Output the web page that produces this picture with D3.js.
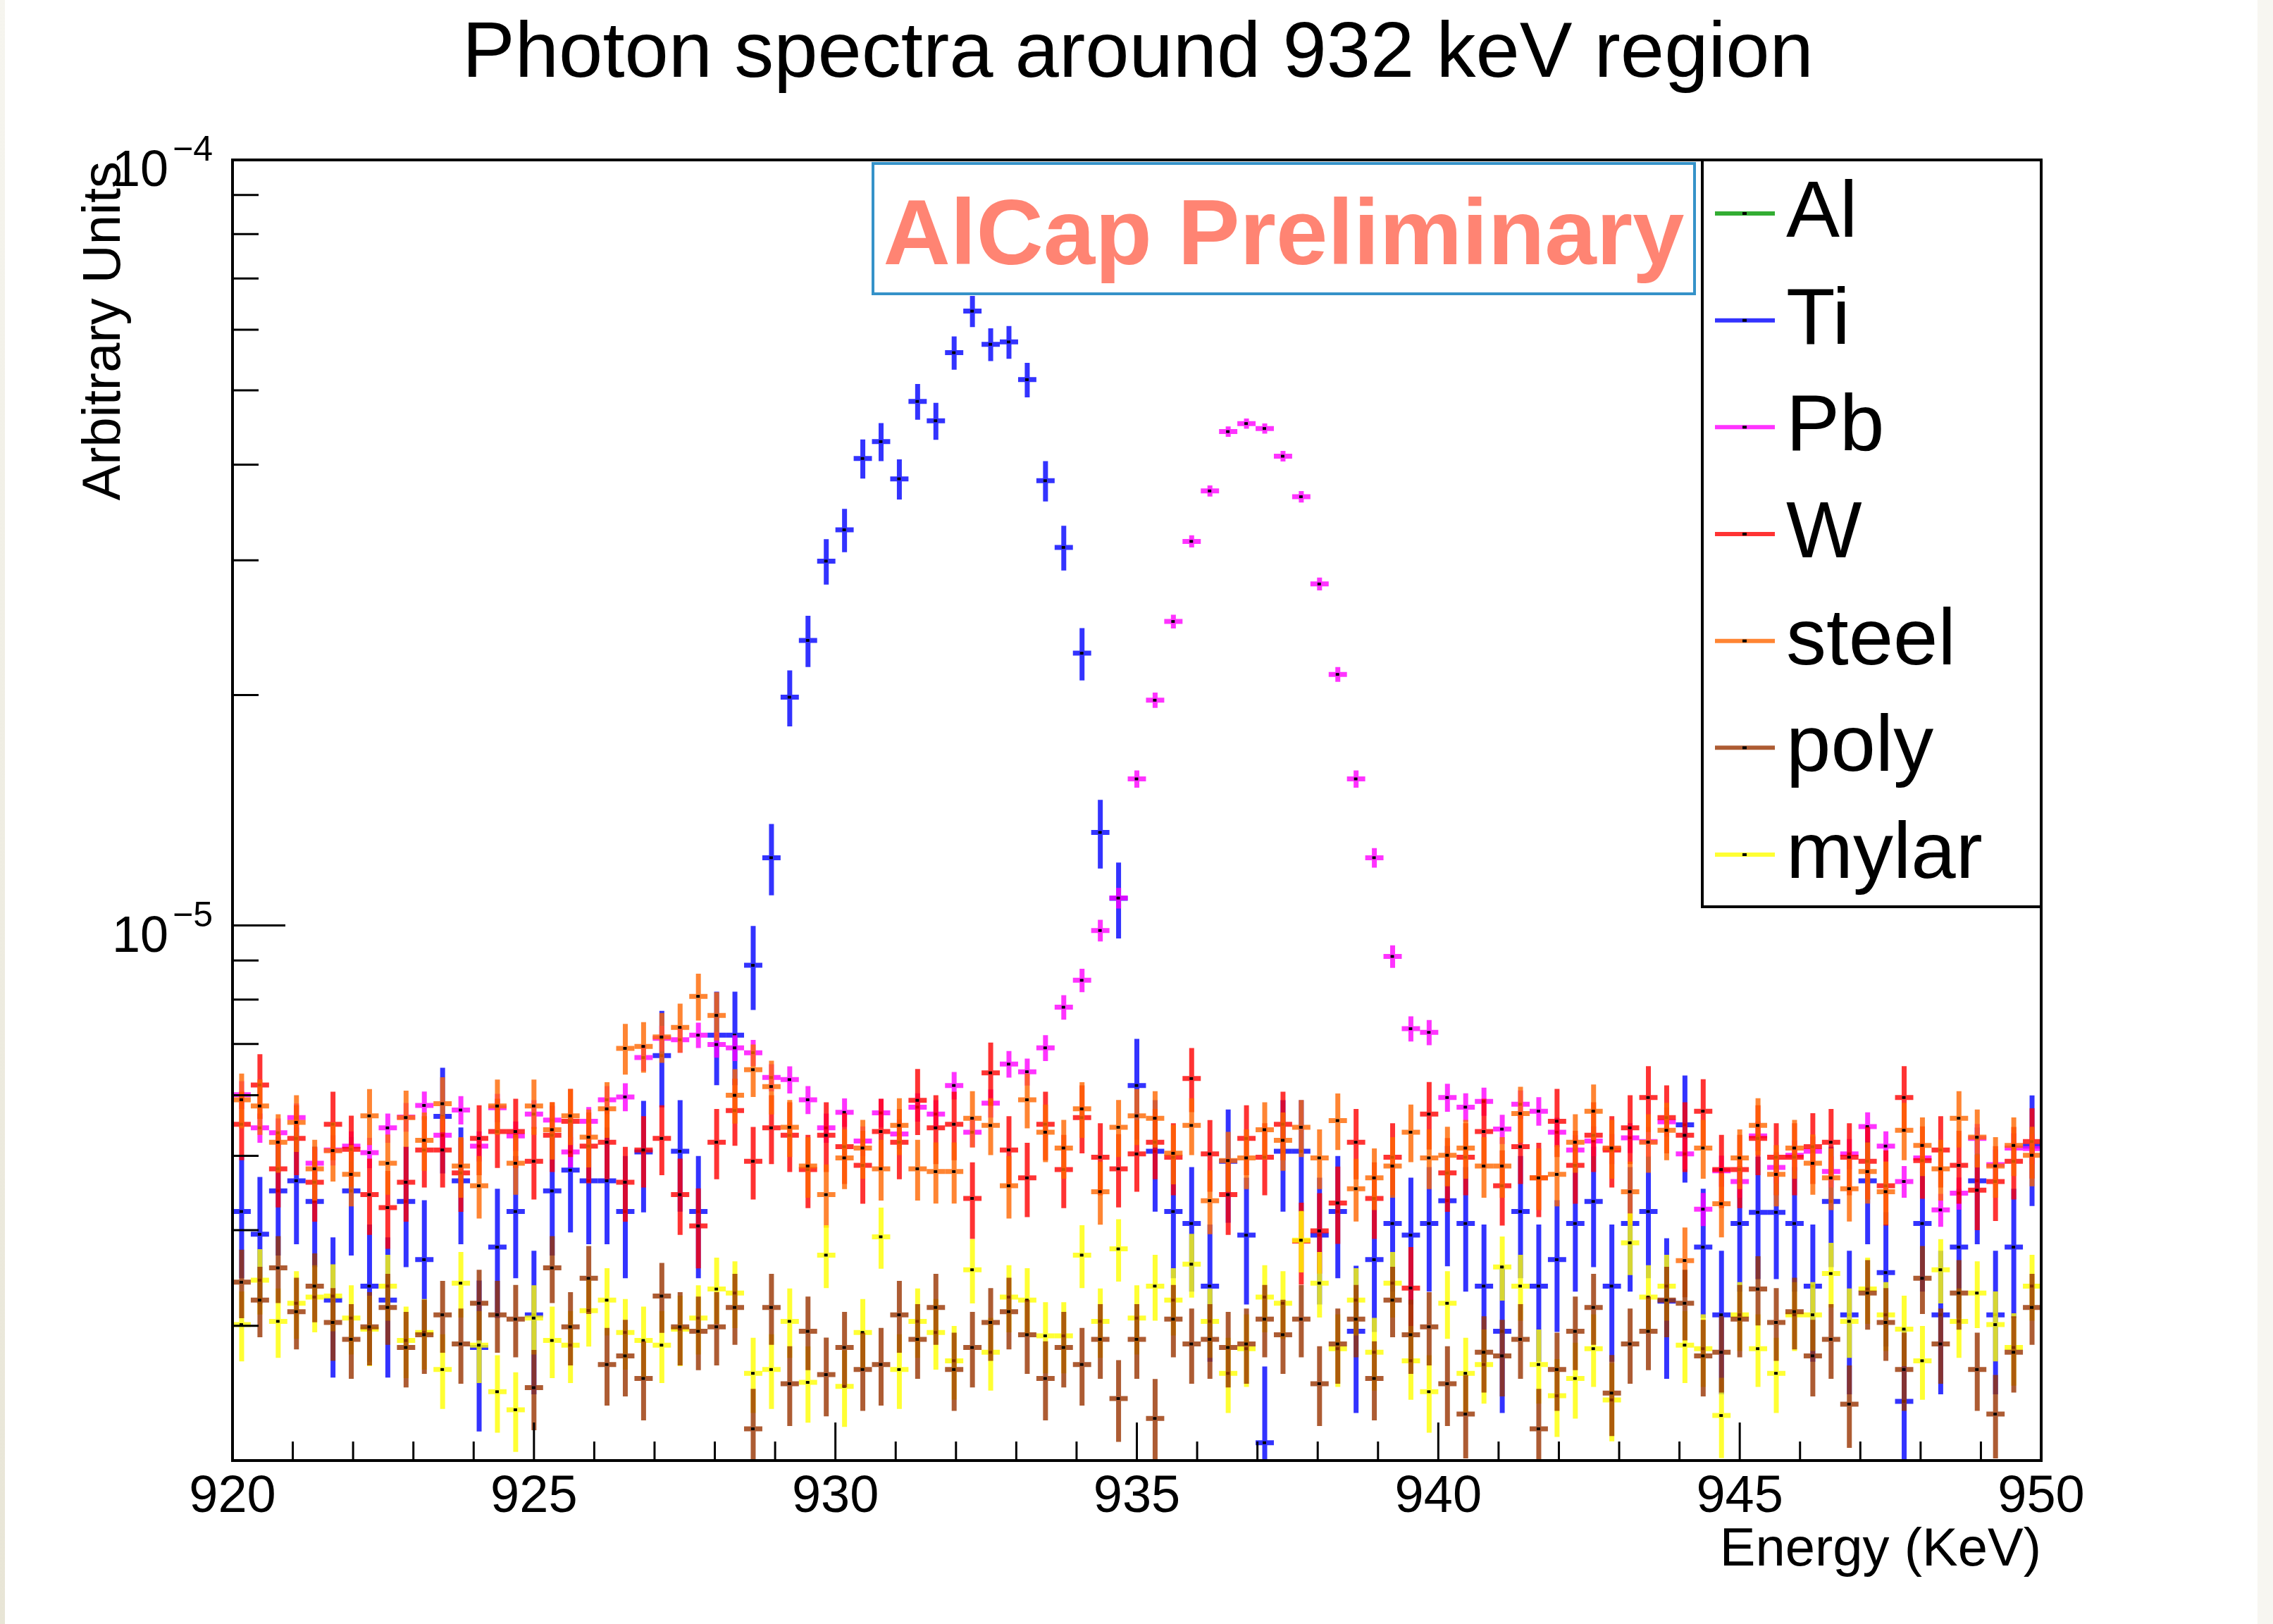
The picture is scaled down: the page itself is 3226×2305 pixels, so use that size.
<!DOCTYPE html>
<html><head><meta charset="utf-8">
<script src="https://cdn.jsdelivr.net/npm/d3@7"></script>
<style>
html,body{margin:0;padding:0;background:#fff;}
svg{display:block;}
text{font-family:"Liberation Sans",Arial,Helvetica,sans-serif;}
</style>
</head><body>
<svg id="c" width="3226" height="2305"></svg>
<script>
// ---------------- data (values in units of 1e-6, arbitrary units) ----------------
const energyRange = [920, 950];          // keV, axis range
const nBins = 99;                         // histogram bins across the axis range
const yRange = [2e-6, 1e-4];
const valueUnit = 1e-6;

const seriesNames = ["Al", "Ti", "Pb", "W", "steel", "poly", "mylar"];
const drawOrder   = ["Al", "Ti", "Pb", "W", "steel", "mylar", "poly"];
const seriesColors = ["#009900", "#0000ff", "#ff00ff", "#ff0000", "#ff6600", "#993300", "#ffff00"];
// value carried by one count (1e-6 units) -> Poisson error bars
const countWeight = [0.05, 0.14, 0.0105, 0.058, 0.040, 0.036, 0.033];

const alValues = [];   // Al is not visible in the plotted range

const tiValues = [4.23,3.95,4.50,4.64,4.36,3.24,4.50,3.38,3.24,4.36,3.66,5.63,4.64,2.81,3.80,4.23,3.10,4.50,4.79,4.64,
  4.64,4.23,5.06,6.76,5.07,4.23,7.19,7.19,8.87,12.26,19.87,23.57,29.92,32.87,40.74,42.86,38.32,48.37,45.63,56.0,
  63.46,57.43,57.84,51.64,38.10,31.18,22.68,13.23,10.85,6.18,5.07,4.23,4.08,3.38,4.92,3.94,2.11,5.07,5.07,3.94,
  4.23,2.95,3.66,4.08,3.94,4.08,4.37,4.08,3.38,2.95,4.23,3.38,3.66,4.08,4.36,3.38,4.08,4.23,3.23,5.49,
  3.80,3.10,4.08,4.22,4.22,4.08,3.38,4.36,3.10,4.64,3.52,2.39,4.08,3.10,3.80,4.64,3.10,3.80,5.15];

const pbValues = [6.01,5.44,5.36,5.61,4.89,5.09,5.15,5.05,5.44,5.62,5.82,5.32,5.74,5.15,5.78,5.31,5.67,5.57,5.06,5.55,
  5.92,5.97,6.72,7.12,7.09,7.19,6.99,6.92,6.82,6.33,6.29,5.92,5.44,5.70,5.23,5.69,5.34,5.79,5.67,6.18,
  5.37,5.86,6.59,6.44,6.92,7.82,8.48,9.85,10.86,15.54,19.69,24.95,31.75,36.95,44.17,45.25,44.58,41.02,36.31,27.93,
  21.28,15.54,12.26,9.11,7.33,7.25,5.96,5.79,5.89,5.42,5.84,5.72,5.37,5.09,5.23,5.11,5.28,5.22,5.54,5.03,
  4.26,4.78,4.63,5.31,4.83,5.01,5.07,4.77,5.03,5.46,5.15,4.63,4.97,4.25,4.47,5.27,4.87,5.12,5.11];

const wValues = [5.50,6.19,4.81,5.27,4.62,5.50,5.10,4.45,4.28,4.62,5.09,5.09,4.75,5.27,5.38,5.38,4.92,5.32,5.55,5.15,
  5.21,4.62,5.09,5.27,4.45,4.05,5.21,5.73,4.92,5.44,5.32,4.80,5.32,5.14,4.86,5.38,5.21,5.91,5.44,5.50,
  4.40,6.42,5.09,4.68,5.50,4.80,5.61,4.98,4.81,5.03,5.21,4.98,6.31,5.03,4.45,5.27,4.98,5.50,3.87,3.99,
  4.34,5.21,4.40,4.98,3.36,5.67,4.75,4.98,5.38,4.57,5.14,4.68,5.55,4.86,5.32,5.09,5.44,5.96,5.61,5.32,
  5.72,4.80,4.80,5.27,4.98,4.98,5.14,5.21,4.98,4.92,4.57,5.96,4.93,5.09,4.86,4.51,4.63,4.92,5.22];

const steelValues = [5.92,5.81,5.21,5.53,4.81,5.08,4.73,5.64,4.89,5.61,5.24,5.85,4.85,4.57,5.81,4.89,5.81,5.41,5.64,5.29,
  5.76,6.91,6.95,7.15,7.36,8.08,7.63,6.00,6.48,6.16,5.45,4.85,4.45,4.97,5.12,4.81,5.48,4.81,4.77,4.77,
  5.60,5.48,4.57,5.92,5.37,5.12,5.76,4.49,5.45,5.64,5.60,5.04,5.48,4.37,4.93,4.97,5.41,5.24,5.45,4.97,
  5.56,4.53,4.68,4.85,5.37,4.97,5.01,5.12,4.85,4.85,5.68,4.68,4.73,5.21,5.72,5.12,4.49,5.21,5.40,3.65,
  5.12,4.33,4.97,5.48,4.73,5.12,4.89,4.68,4.53,4.77,4.49,5.40,5.16,4.81,5.60,5.29,4.85,5.16,5.01];

const polyValues = [3.42,3.24,3.57,3.13,3.38,3.03,2.88,2.99,3.17,2.81,2.92,3.10,2.84,3.21,3.10,3.06,2.49,3.57,2.99,3.46,
  2.67,2.74,2.56,3.28,2.99,2.95,2.99,3.17,2.20,3.17,2.52,2.95,2.59,2.81,2.63,2.67,3.10,2.88,3.17,2.63,
  2.81,3.03,3.13,2.92,2.56,2.81,2.67,2.88,2.41,2.88,2.27,3.06,2.84,2.88,2.81,2.84,3.06,2.92,3.06,2.52,
  2.84,3.06,2.56,3.24,2.92,2.99,2.52,2.30,2.77,2.74,2.88,2.20,2.63,2.95,3.17,2.45,2.84,2.95,3.24,3.21,
  2.74,2.77,3.06,3.35,3.03,3.13,2.74,2.88,2.37,3.31,3.03,2.63,3.46,2.84,3.31,2.63,2.30,2.77,3.17];

const mylarValues = [3.01,3.44,3.04,3.21,3.27,3.28,3.07,2.97,3.38,2.87,2.94,2.63,3.41,2.83,2.46,2.33,3.07,2.87,2.83,3.14,
  3.24,2.94,2.87,2.83,2.97,3.07,3.35,3.31,2.60,2.63,3.04,2.53,3.71,2.50,2.94,3.92,2.63,3.04,2.94,2.70,
  3.55,2.77,3.27,3.24,2.91,2.91,3.71,3.04,3.78,3.07,3.38,3.24,3.61,3.04,2.60,2.80,3.27,3.21,3.88,3.41,
  2.80,3.24,2.77,3.41,2.70,2.46,3.21,2.60,2.67,3.58,3.38,2.67,2.43,2.56,2.80,2.40,3.85,3.27,3.38,2.83,
  2.80,2.29,3.10,2.80,2.60,3.10,3.10,3.51,3.04,3.35,3.10,2.97,2.70,3.55,3.04,3.31,3.01,2.81,3.38];

const seriesValues = [alValues, tiValues, pbValues, wValues, steelValues, polyValues, mylarValues];

const xTickMajor = [920, 925, 930, 935, 940, 945, 950];
const xTickLabels = ["920", "925", "930", "935", "940", "945", "950"];
const yTickMajor = [1e-5, 1e-4];
const yTickBase = ["10", "10"];
const yTickExp = ["\u22125", "\u22124"];

const titleText = "Photon spectra around 932 keV region";
const xTitle = "Energy (KeV)";
const yTitle = "Arbitrary Units";
const stampText = "AlCap Preliminary";

// ---------------- layout ----------------
const svg = d3.select("#c");
const plot = {left: 330, right: 2897, top: 227, bottom: 2073};
const x = d3.scaleLinear().domain(energyRange).range([plot.left, plot.right]);
const y = d3.scaleLog().domain(yRange).range([plot.bottom, plot.top]);
const binW = (energyRange[1] - energyRange[0]) / nBins;
const alpha = 0.8;

const defs = svg.append("defs");
const grad = defs.append("linearGradient").attr("id", "edge").attr("x1", 0).attr("y1", 0).attr("x2", 0).attr("y2", 1);
grad.append("stop").attr("offset", "0").attr("stop-color", "#f6f5ef");
grad.append("stop").attr("offset", "1").attr("stop-color", "#e8e5d6");

svg.append("rect").attr("width", 3226).attr("height", 2305).attr("fill", "#fff");
svg.append("rect").attr("x", 0).attr("y", 0).attr("width", 7).attr("height", 2305).attr("fill", "url(#edge)");
svg.append("rect").attr("x", 3204).attr("y", 0).attr("width", 22).attr("height", 2305).attr("fill", "#f7f6f1");

defs.append("clipPath").attr("id", "clip")
  .append("rect").attr("x", plot.left).attr("y", plot.top)
  .attr("width", plot.right - plot.left).attr("height", plot.bottom - plot.top);

// ---------------- data marks ----------------
const gData = svg.append("g").attr("clip-path", "url(#clip)");
drawOrder.forEach(name => {
  const si = seriesNames.indexOf(name);
  const vals = seriesValues[si];
  const k = countWeight[si];
  const col = d3.color(seriesColors[si]); col.opacity = alpha;
  const pts = vals.map((v, i) => {
    const lo = energyRange[0] + i * binW, hi = lo + binW;
    const e = Math.sqrt(v * k);
    return {lo, hi, c: (lo + hi) / 2, v, vUp: v + e, vDn: Math.max(v - e, 1e-3)};
  });
  const g = gData.append("g").attr("class", "series-" + name);
  g.selectAll("path").data(pts).join("path")
    .attr("d", p => `M${x(p.lo)},${y(p.v * valueUnit)}H${x(p.hi)}M${x(p.c)},${y(p.vUp * valueUnit)}V${y(p.vDn * valueUnit)}`)
    .attr("fill", "none").attr("stroke", col.formatRgb()).attr("stroke-width", 7);
  g.selectAll("rect").data(pts).join("rect")
    .attr("x", p => x(p.c) - 3).attr("y", p => y(p.v * valueUnit) - 2)
    .attr("width", 5).attr("height", 4).attr("fill", "#000");
});

// ---------------- axes ----------------
const gAx = svg.append("g").attr("stroke", "#000").attr("fill", "none");
const xMinor = d3.range(energyRange[0], energyRange[1] + 0.001, 1).filter(v => v % 5 !== 0);
gAx.selectAll(".xmaj").data(xTickMajor).join("line").attr("class", "xmaj")
  .attr("x1", d => x(d)).attr("x2", d => x(d)).attr("y1", plot.bottom).attr("y2", plot.bottom - 54)
  .attr("stroke-width", 3);
gAx.selectAll(".xmin").data(xMinor).join("line").attr("class", "xmin")
  .attr("x1", d => x(d)).attr("x2", d => x(d)).attr("y1", plot.bottom).attr("y2", plot.bottom - 27)
  .attr("stroke-width", 3);
const yMinor = [];
[1e-6, 1e-5].forEach(dec => { for (let m = 2; m <= 9; m++) yMinor.push(m * dec); });
gAx.selectAll(".ymaj").data(yTickMajor).join("line").attr("class", "ymaj")
  .attr("x1", plot.left).attr("x2", plot.left + 75).attr("y1", d => y(d)).attr("y2", d => y(d))
  .attr("stroke-width", 3);
gAx.selectAll(".ymin").data(yMinor.filter(v => v > yRange[0] * 1.01)).join("line").attr("class", "ymin")
  .attr("x1", plot.left).attr("x2", plot.left + 37).attr("y1", d => y(d)).attr("y2", d => y(d))
  .attr("stroke-width", 3);
svg.append("rect").attr("x", plot.left).attr("y", plot.top)
  .attr("width", plot.right - plot.left).attr("height", plot.bottom - plot.top)
  .attr("fill", "none").attr("stroke", "#000").attr("stroke-width", 4);

// x tick labels
svg.append("g").selectAll("text").data(xTickMajor).join("text")
  .attr("x", d => x(d)).attr("y", 2146).attr("text-anchor", "middle")
  .attr("font-size", 74).text((d, i) => xTickLabels[i]);

// y tick labels
yTickMajor.forEach((v, i) => {
  const t = svg.append("text").attr("x", 302).attr("y", y(v) + 37).attr("text-anchor", "end");
  t.append("tspan").attr("font-size", 72).text(yTickBase[i]);
  t.append("tspan").attr("font-size", 50).attr("dx", 6).attr("dy", -36).text(yTickExp[i]);
});

// axis titles
svg.append("text").attr("x", plot.right).attr("y", 2222).attr("text-anchor", "end")
  .attr("font-size", 76).text(xTitle);
svg.append("text").attr("transform", `translate(170,${plot.top + 2}) rotate(-90)`)
  .attr("text-anchor", "end").attr("font-size", 76).text(yTitle);

// title
svg.append("text").attr("x", 1615).attr("y", 109).attr("text-anchor", "middle")
  .attr("font-size", 112).text(titleText);

// preliminary stamp
svg.append("rect").attr("x", 1239).attr("y", 232).attr("width", 1166).attr("height", 185)
  .attr("fill", "#fff").attr("stroke", "#3592c9").attr("stroke-width", 4);
svg.append("text").attr("x", 1822).attr("y", 375).attr("text-anchor", "middle")
  .attr("font-size", 132).attr("font-weight", "bold").attr("fill", "#ff8473").text(stampText);

// legend
const lg = svg.append("g");
lg.append("rect").attr("x", 2416).attr("y", 227).attr("width", 481).attr("height", 1060)
  .attr("fill", "#fff").attr("stroke", "#000").attr("stroke-width", 4);
seriesNames.forEach((name, j) => {
  const yy = 303 + j * 151.67;
  const col = d3.color(seriesColors[j]); col.opacity = alpha;
  lg.append("line").attr("x1", 2434).attr("x2", 2519).attr("y1", yy).attr("y2", yy)
    .attr("stroke", col.formatRgb()).attr("stroke-width", 6);
  lg.append("rect").attr("x", 2473).attr("y", yy - 2).attr("width", 6).attr("height", 4).attr("fill", "#000");
  lg.append("text").attr("x", 2535).attr("y", yy + 33).attr("font-size", 114).text(name);
});
</script>
</body></html>
